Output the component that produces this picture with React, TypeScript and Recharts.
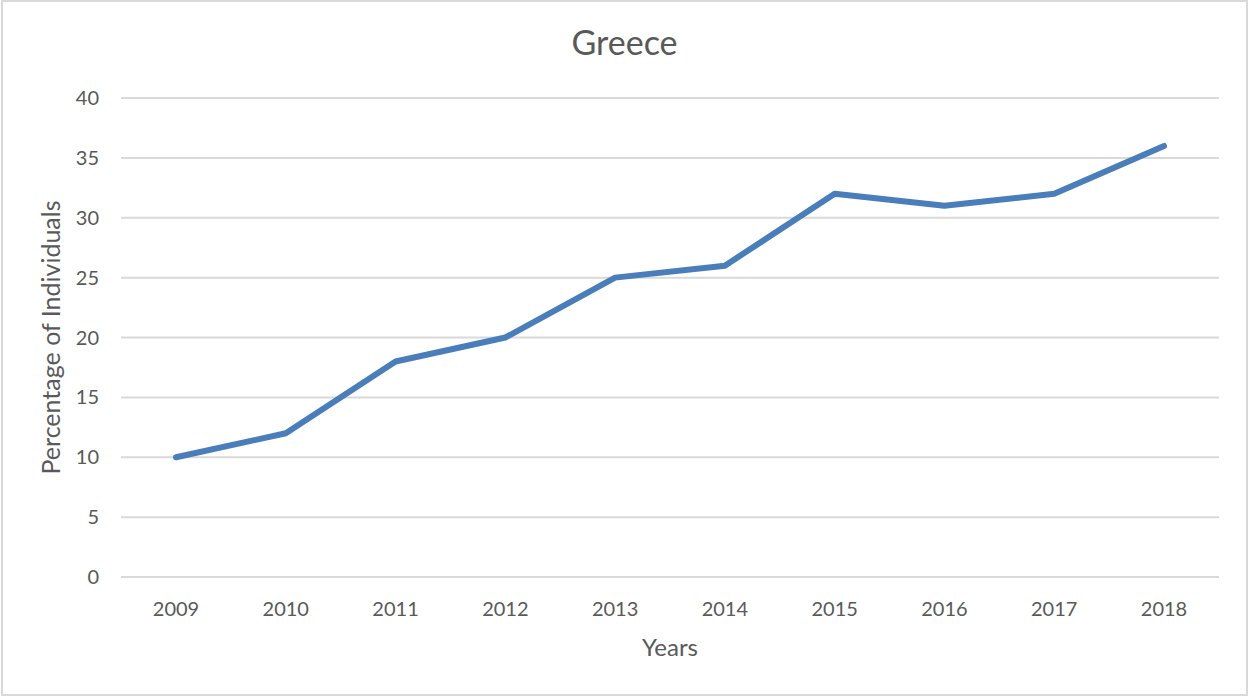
import React from 'react';
import { LineChart, Line, XAxis, YAxis, CartesianGrid } from 'recharts';

const years = ['2009', '2010', '2011', '2012', '2013', '2014', '2015', '2016', '2017', '2018'];
const percentages = [10, 12, 18, 20, 25, 26, 32, 31, 32, 36];
const yTicks = [0, 5, 10, 15, 20, 25, 30, 35, 40];

const data = years.map((year, i) => ({ year, value: percentages[i] }));

const FONT = 'Lato, "Open Sans", sans-serif';
const TEXT = '#595959';
const GRID = '#d9d9d9';

const App: React.FC = () => {
  return (
    <div style={{ position: 'absolute', left: 0, top: 0, width: 1249, height: 698, background: '#fff', fontFamily: FONT }}>
      <div
        style={{
          position: 'absolute', left: 1, top: 0, width: 1247, height: 696,
          border: `2px solid ${GRID}`, boxSizing: 'border-box',
        }}
      />
      <div
        style={{
          position: 'absolute', left: 0, top: 25, width: 1249, textAlign: 'center',
          fontSize: 34, lineHeight: '34px', color: TEXT,
        }}
      >
        Greece
      </div>
      <div style={{ position: 'absolute', left: 0, top: 0 }}>
        <LineChart width={1249} height={698} data={data} margin={{ top: 98, right: 30, left: 0, bottom: 0 }}>
          <CartesianGrid vertical={false} stroke={GRID} strokeWidth={2} />
          <XAxis
            dataKey="year"
            height={121}
            padding={{ left: 55, right: 55 }}
            axisLine={{ stroke: GRID, strokeWidth: 2 }}
            tickLine={false}
            tickSize={0}
            tickMargin={25}
            tick={{ fill: TEXT, fontSize: 20, fontFamily: FONT }}
            label={{ value: 'Years', position: 'center', dy: 10, fill: TEXT, fontSize: 24, fontFamily: FONT }}
          />
          <YAxis
            width={121}
            domain={[0, 40]}
            ticks={yTicks}
            axisLine={false}
            tickLine={false}
            tickSize={0}
            tickMargin={22}
            tick={{ fill: TEXT, fontSize: 20, fontFamily: FONT }}
            label={{ value: 'Percentage of Individuals', angle: -90, position: 'center', dx: -9, fill: TEXT, fontSize: 25, fontFamily: FONT }}
          />
          <Line
            type="linear"
            dataKey="value"
            stroke="#4a7ebb"
            strokeWidth={6}
            strokeLinecap="round"
            strokeLinejoin="round"
            dot={false}
            activeDot={false}
            isAnimationActive={false}
          />
        </LineChart>
      </div>
    </div>
  );
};

export default App;
